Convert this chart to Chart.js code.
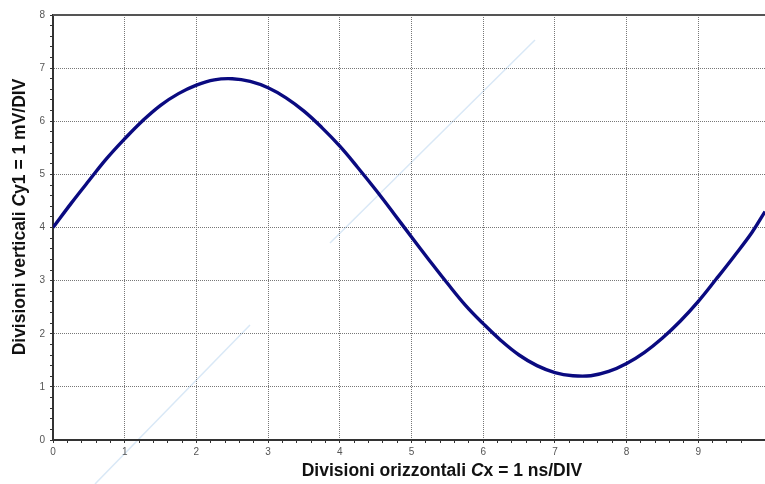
<!DOCTYPE html>
<html>
<head>
<meta charset="utf-8">
<script src="https://cdn.jsdelivr.net/npm/chart.js@4.4.1/dist/chart.umd.min.js"></script>
<style>
  html, body { margin: 0; padding: 0; background: #fff; }
  #wrap { width: 765px; height: 484px; position: relative; overflow: hidden; }
</style>
</head>
<body>
<div id="wrap"><canvas id="chartWave" width="768" height="484"></canvas></div>
<script>
// values (divisions)
const xDivs = [0, 0.25, 0.5, 0.75, 1, 1.25, 1.5, 1.75, 2, 2.25, 2.5, 2.75, 3, 3.25, 3.5, 3.75,
  4, 4.25, 4.5, 4.75, 5, 5.25, 5.5, 5.75, 6, 6.25, 6.5, 6.75, 7, 7.25, 7.5, 7.75,
  8, 8.25, 8.5, 8.75, 9, 9.25, 9.5, 9.75, 9.93];
const yDivs = [4.00, 4.45, 4.88, 5.30, 5.67, 6.01, 6.30, 6.52, 6.68, 6.78, 6.80, 6.75, 6.63, 6.44, 6.19, 5.88,
  5.53, 5.13, 4.71, 4.27, 3.82, 3.38, 2.95, 2.54, 2.19, 1.87, 1.60, 1.40, 1.27, 1.21, 1.21, 1.29,
  1.44, 1.65, 1.92, 2.24, 2.61, 3.03, 3.46, 3.91, 4.30];
const xRange = [0, 9.93];
const yRange = [0, 8];
const xTitle = ["Divisioni orizzontali ", "C", "x = 1 ns/DIV"];
const yTitle = ["Divisioni verticali ", "C", "y1 = 1 mV/DIV"];

const isMajor = (v) => Math.abs(v - Math.round(v)) < 1e-6;

// top border of the plot + mixed style axis titles
const framePlugin = {
  id: "frame",
  beforeDraw(chart) {
    const c = chart.ctx;
    c.save();
    c.strokeStyle = "rgba(170,205,235,0.45)";
    c.lineWidth = 1.5;
    c.beginPath();
    c.moveTo(95, 484); c.lineTo(250, 325);
    c.moveTo(330, 243); c.lineTo(535, 40);
    c.stroke();
    c.restore();
  },
  afterDraw(chart) {
    const { ctx, chartArea } = chart;
    ctx.save();
    ctx.strokeStyle = "#555";
    ctx.lineWidth = 2;
    ctx.beginPath();
    ctx.moveTo(chartArea.left, chartArea.top);
    ctx.lineTo(chartArea.right + 3, chartArea.top);
    ctx.stroke();

    const drawParts = (parts) => {
      const fonts = ["bold 17.5px 'Liberation Sans', Arial", "italic bold 17.5px 'Liberation Sans', Arial",
        "bold 17.5px 'Liberation Sans', Arial"];
      let total = 0;
      parts.forEach((p, i) => { ctx.font = fonts[i]; total += ctx.measureText(p).width; });
      let x = -total / 2;
      ctx.fillStyle = "#111";
      ctx.textBaseline = "middle";
      parts.forEach((p, i) => {
        ctx.font = fonts[i];
        ctx.fillText(p, x, 0);
        x += ctx.measureText(p).width;
      });
    };
    ctx.save();
    ctx.translate(442, 471);
    drawParts(xTitle);
    ctx.restore();
    ctx.save();
    ctx.translate(20, 217);
    ctx.rotate(-Math.PI / 2);
    drawParts(yTitle);
    ctx.restore();
    ctx.restore();
  },
};

const tickFont = { family: "'Liberation Sans', Arial", size: 10 };

new Chart(document.getElementById("chartWave"), {
  type: "line",
  data: {
    datasets: [{
      data: xDivs.map((x, i) => ({ x: x, y: yDivs[i] })),
      borderColor: "#0a0a80",
      borderWidth: 3.4,
      pointRadius: 0,
      tension: 0.4,
      fill: false,
    }],
  },
  options: {
    responsive: false,
    animation: false,
    layout: { padding: { top: 15, right: 0, left: 0, bottom: 0 } },
    plugins: { legend: { display: false }, tooltip: { enabled: false } },
    scales: {
      x: {
        type: "linear",
        min: xRange[0],
        max: xRange[1],
        afterFit: (s) => { s.height = 44; },
        ticks: {
          stepSize: 0.2,
          autoSkip: false,
          maxRotation: 0,
          padding: 3,
          color: "#555",
          font: tickFont,
          callback: (v) => (isMajor(v) ? Math.round(v) : ""),
        },
        grid: {
          color: (ctx) => (isMajor(ctx.tick.value) && ctx.tick.value > 0 ? "#777" : "transparent"),
          tickColor: "#333",
          tickLength: 3,
          lineWidth: 1,
        },
        border: { color: "#333", width: 2, dash: [1, 1] },
      },
      y: {
        min: yRange[0],
        max: yRange[1],
        afterFit: (s) => { s.width = 53; },
        ticks: {
          stepSize: 0.2,
          autoSkip: false,
          padding: 5,
          color: "#555",
          font: tickFont,
          callback: (v) => (isMajor(v) ? Math.round(v) : ""),
        },
        grid: {
          color: (ctx) => (isMajor(ctx.tick.value) && ctx.tick.value > 0 && ctx.tick.value < 8 ? "#777" : "transparent"),
          tickColor: "#333",
          tickLength: 3,
          lineWidth: 1,
        },
        border: { color: "#333", width: 2, dash: [1, 1] },
      },
    },
  },
  plugins: [framePlugin],
});
</script>
</body>
</html>
